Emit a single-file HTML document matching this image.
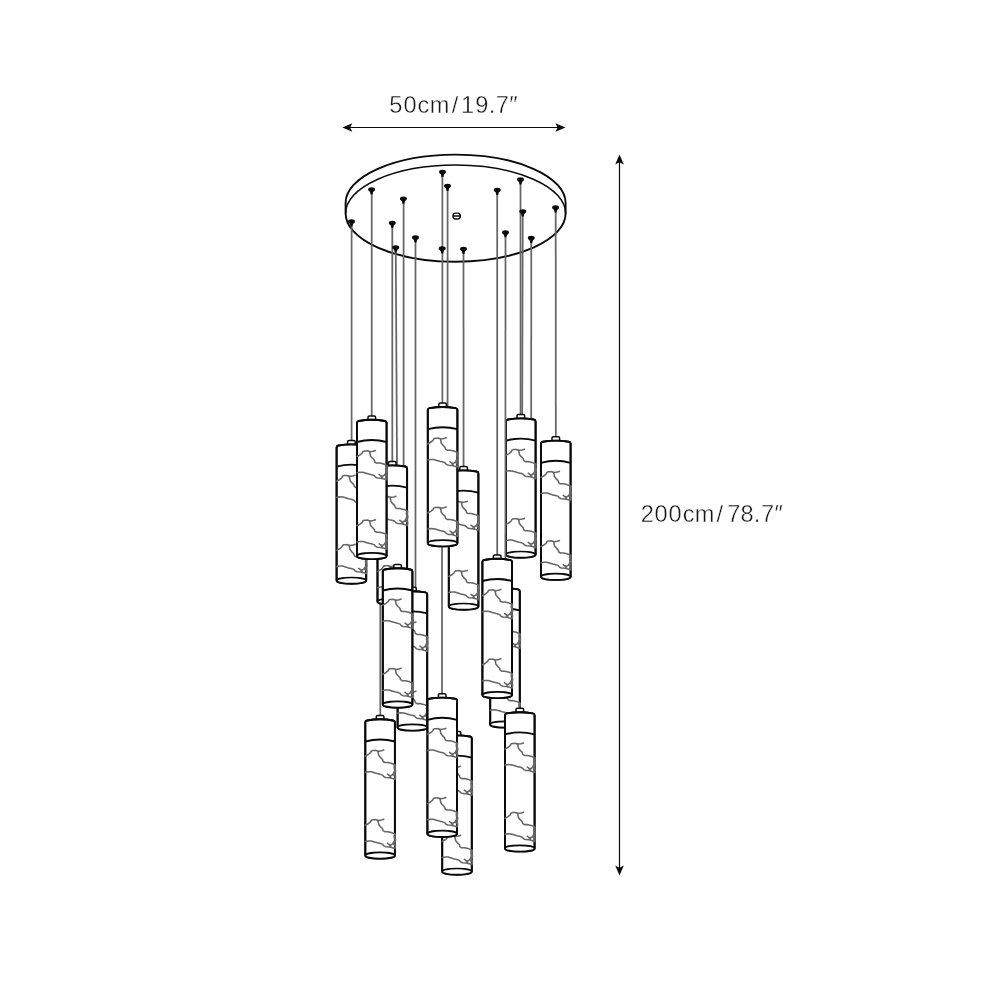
<!DOCTYPE html>
<html lang="en"><head><meta charset="utf-8"><title>Pendant dimensions</title>
<style>html,body{margin:0;padding:0;background:#fff}body{width:1000px;height:1000px;overflow:hidden}svg{display:block}text{font-family:"Liberation Sans",sans-serif;font-size:23.6px;fill:#161616;stroke:#fff;stroke-width:0.38px}</style></head><body>
<svg width="1000" height="1000" viewBox="0 0 1000 1000">
<rect width="1000" height="1000" fill="#fff"/>
<defs><symbol id="p" overflow="visible">
<path d="M11,0.6 L11,-2.6 Q11,-3.9 12.4,-3.9 L17.2,-3.9 Q18.6,-3.9 18.6,-2.6 L18.6,0.6 Z" fill="#fff" stroke="#0a0a0a" stroke-width="1.5" stroke-linejoin="round"/>
<path d="M0,136.2 L0,3 Q0,1.5 1.8,1.15 Q14.8,-1.15 27.8,1.15 Q29.6,1.5 29.6,3 L29.6,136.2 A14.8,3.1 0 0 1 0,136.2 Z" fill="#fff" stroke="#0a0a0a" stroke-width="1.9" stroke-linejoin="round"/>
<path d="M0,22.2 Q14.8,18.2 29.6,22.2" fill="none" stroke="#0a0a0a" stroke-width="1.9"/>
<ellipse cx="14.8" cy="136.2" rx="14.8" ry="3.1" fill="#fff" stroke="#0a0a0a" stroke-width="1.7"/>
<path d="M0,136.2 L0,3 Q0,1.5 1.8,1.15 Q14.8,-1.15 27.8,1.15 Q29.6,1.5 29.6,3 L29.6,136.2" fill="none" stroke="#0a0a0a" stroke-width="1.9" stroke-linejoin="round"/>
<path d="M0.0,36.8 L3.0,35.2 L5.2,33.4 L6.0,31.8 L7.2,31.2 L10.0,31.0 L12.4,31.8 L13.0,33.6 L13.4,36.0 L15.0,38.0 L17.2,40.2 L17.8,42.2 L19.4,43.2 L22.4,43.2 L26.0,44.0 L29.6,45.4 M10.0,31.0 L13.5,31.9 L16.2,31.5 L18.4,30.8 M29.4,45.4 L28.8,48.0 L29.6,51.0 L28.6,53.2 L27.6,55.2 L29.4,56.6 M30.1,46.0 L29.7,48.8 L30.3,51.6 L29.6,54.4 L30.2,57.2 L29.8,59.6 M0.0,52.9 L3.0,52.4 L6.0,52.5 L9.0,53.4 L12.0,54.3 L15.5,55.1 L17.2,55.8 L18.6,57.4 L20.5,58.2 L24.0,58.4 L27.0,59.2 L29.6,60.0 M22.2,54.8 L23.8,56.0 L25.4,56.6 L27.0,55.6 L28.4,54.0 M23.8,56.0 L25.6,58.2 M0.0,106.0 L3.0,104.4 L5.2,102.6 L6.0,101.0 L7.2,100.4 L10.0,100.2 L12.4,101.0 L13.0,102.8 L13.4,105.2 L15.0,107.2 L17.2,109.4 L17.8,111.4 L19.4,112.4 L22.4,112.4 L26.0,113.2 L29.6,114.6 M10.0,100.2 L13.5,101.1 L16.2,100.7 L18.4,100.0 M29.4,114.6 L28.8,117.2 L29.6,120.2 L28.6,122.4 L27.6,124.4 L29.4,125.8 M30.1,115.2 L29.7,118.0 L30.3,120.8 L29.6,123.6 L30.2,126.4 L29.8,128.8 M0.0,122.1 L3.0,121.6 L6.0,121.7 L9.0,122.6 L12.0,123.5 L15.5,124.3 L17.2,125.0 L18.6,126.6 L20.5,127.4 L24.0,127.6 L27.0,128.4 L29.6,129.2 M22.2,124.0 L23.8,125.2 L25.4,125.8 L27.0,124.8 L28.4,123.2 M23.8,125.2 L25.6,127.4" fill="none" stroke="#666666" stroke-width="1.55" stroke-linecap="round" stroke-linejoin="round"/>
</symbol></defs>
<g style="filter:grayscale(1)"><text x="389.3 403.6 417.6 429.7 451.7 461 475.2 488.7 495.8 509.2" y="112.5">50cm/19.7″</text>
<text x="640.7 654.4 668.5 682.7 694.8 716.6 727.3 740.5 753.7 761 774.6" y="521.9">200cm/78.7″</text></g>
<line x1="348" y1="127.5" x2="560" y2="127.5" stroke="#0a0a0a" stroke-width="1.2"/>
<polygon points="342.30,127.50 352.40,123.20 350.10,127.50 352.40,131.80" fill="#0a0a0a"/>
<polygon points="565.50,127.50 555.40,131.80 557.70,127.50 555.40,123.20" fill="#0a0a0a"/>
<line x1="619.5" y1="160" x2="619.5" y2="870" stroke="#0a0a0a" stroke-width="1.2"/>
<polygon points="619.50,154.40 623.80,164.50 619.50,162.20 615.20,164.50" fill="#0a0a0a"/>
<polygon points="619.50,875.50 615.20,865.40 619.50,867.70 623.80,865.40" fill="#0a0a0a"/>
<path d="M345.6,213.4 L345.6,203.0 A110,48.4 0 0 1 565.6,203.0 L565.6,213.4 A110,48.4 0 0 1 345.6,213.4 Z" fill="#fff" stroke="#0a0a0a" stroke-width="1.9"/>
<path d="M345.6,213.4 A110,48.4 0 0 1 565.6,213.4" fill="none" stroke="#0a0a0a" stroke-width="1.55"/>
<rect x="453" y="213.1" width="7.3" height="5.8" rx="2.7" fill="#fff" stroke="#0a0a0a" stroke-width="1.45"/><line x1="453.4" y1="216" x2="460" y2="216" stroke="#0a0a0a" stroke-width="1.5"/>
<line x1="442.4" y1="172.5" x2="442.4" y2="404" stroke="#666666" stroke-width="1.75"/>
<line x1="447.6" y1="186.5" x2="447.6" y2="408" stroke="#666666" stroke-width="1.75"/>
<line x1="371.7" y1="190" x2="371.7" y2="416" stroke="#666666" stroke-width="1.75"/>
<line x1="403.6" y1="199.25" x2="403.6" y2="467" stroke="#666666" stroke-width="1.75"/>
<line x1="497.2" y1="190.5" x2="497.2" y2="556" stroke="#666666" stroke-width="1.75"/>
<line x1="520.5" y1="180" x2="520.6" y2="415" stroke="#666666" stroke-width="1.75"/>
<line x1="522.75" y1="212" x2="522.2" y2="415" stroke="#666666" stroke-width="1.75"/>
<line x1="555.7" y1="208" x2="555.8" y2="437" stroke="#666666" stroke-width="1.75"/>
<line x1="351.6" y1="222" x2="351.6" y2="441" stroke="#666666" stroke-width="1.75"/>
<line x1="392.3" y1="223.5" x2="392.3" y2="462" stroke="#666666" stroke-width="1.75"/>
<line x1="415.5" y1="238" x2="415.5" y2="590" stroke="#666666" stroke-width="1.75"/>
<line x1="395.75" y1="248" x2="397.6" y2="566" stroke="#666666" stroke-width="1.75"/>
<line x1="463.5" y1="249.5" x2="463.6" y2="467" stroke="#666666" stroke-width="1.75"/>
<line x1="531.25" y1="238.5" x2="531.2" y2="420" stroke="#666666" stroke-width="1.75"/>
<line x1="442.0" y1="546" x2="442.0" y2="695" stroke="#666666" stroke-width="1.75"/>
<line x1="380.3" y1="604" x2="380.3" y2="716" stroke="#666666" stroke-width="1.75"/>
<line x1="520.0" y1="700" x2="520.0" y2="709" stroke="#666666" stroke-width="1.75"/>
<ellipse cx="442.50" cy="171.95" rx="3.45" ry="2.15" fill="#0a0a0a"/><path d="M439.90,173.10 Q441.20,174.40 441.55,176.90 L443.45,176.90 Q443.80,174.40 445.10,173.10 Z" fill="#0a0a0a"/>
<ellipse cx="447.50" cy="185.95" rx="3.45" ry="2.15" fill="#0a0a0a"/><path d="M444.90,187.10 Q446.20,188.40 446.55,190.90 L448.45,190.90 Q448.80,188.40 450.10,187.10 Z" fill="#0a0a0a"/>
<ellipse cx="371.60" cy="189.45" rx="3.45" ry="2.15" fill="#0a0a0a"/><path d="M369.00,190.60 Q370.30,191.90 370.65,194.40 L372.55,194.40 Q372.90,191.90 374.20,190.60 Z" fill="#0a0a0a"/>
<ellipse cx="403.40" cy="198.70" rx="3.45" ry="2.15" fill="#0a0a0a"/><path d="M400.80,199.85 Q402.10,201.15 402.45,203.65 L404.35,203.65 Q404.70,201.15 406.00,199.85 Z" fill="#0a0a0a"/>
<ellipse cx="497.25" cy="189.95" rx="3.45" ry="2.15" fill="#0a0a0a"/><path d="M494.65,191.10 Q495.95,192.40 496.30,194.90 L498.20,194.90 Q498.55,192.40 499.85,191.10 Z" fill="#0a0a0a"/>
<ellipse cx="520.50" cy="179.45" rx="3.45" ry="2.15" fill="#0a0a0a"/><path d="M517.90,180.60 Q519.20,181.90 519.55,184.40 L521.45,184.40 Q521.80,181.90 523.10,180.60 Z" fill="#0a0a0a"/>
<ellipse cx="522.75" cy="211.45" rx="3.45" ry="2.15" fill="#0a0a0a"/><path d="M520.15,212.60 Q521.45,213.90 521.80,216.40 L523.70,216.40 Q524.05,213.90 525.35,212.60 Z" fill="#0a0a0a"/>
<ellipse cx="555.60" cy="207.45" rx="3.45" ry="2.15" fill="#0a0a0a"/><path d="M553.00,208.60 Q554.30,209.90 554.65,212.40 L556.55,212.40 Q556.90,209.90 558.20,208.60 Z" fill="#0a0a0a"/>
<ellipse cx="351.50" cy="221.45" rx="3.45" ry="2.15" fill="#0a0a0a"/><path d="M348.90,222.60 Q350.20,223.90 350.55,226.40 L352.45,226.40 Q352.80,223.90 354.10,222.60 Z" fill="#0a0a0a"/>
<ellipse cx="392.25" cy="222.95" rx="3.45" ry="2.15" fill="#0a0a0a"/><path d="M389.65,224.10 Q390.95,225.40 391.30,227.90 L393.20,227.90 Q393.55,225.40 394.85,224.10 Z" fill="#0a0a0a"/>
<ellipse cx="415.50" cy="237.45" rx="3.45" ry="2.15" fill="#0a0a0a"/><path d="M412.90,238.60 Q414.20,239.90 414.55,242.40 L416.45,242.40 Q416.80,239.90 418.10,238.60 Z" fill="#0a0a0a"/>
<ellipse cx="395.75" cy="247.45" rx="3.45" ry="2.15" fill="#0a0a0a"/><path d="M393.15,248.60 Q394.45,249.90 394.80,252.40 L396.70,252.40 Q397.05,249.90 398.35,248.60 Z" fill="#0a0a0a"/>
<ellipse cx="442.20" cy="248.45" rx="3.45" ry="2.15" fill="#0a0a0a"/><path d="M439.60,249.60 Q440.90,250.90 441.25,253.40 L443.15,253.40 Q443.50,250.90 444.80,249.60 Z" fill="#0a0a0a"/>
<ellipse cx="463.50" cy="248.95" rx="3.45" ry="2.15" fill="#0a0a0a"/><path d="M460.90,250.10 Q462.20,251.40 462.55,253.90 L464.45,253.90 Q464.80,251.40 466.10,250.10 Z" fill="#0a0a0a"/>
<ellipse cx="505.50" cy="232.45" rx="3.45" ry="2.15" fill="#0a0a0a"/><path d="M502.90,233.60 Q504.20,234.90 504.55,237.40 L506.45,237.40 Q506.80,234.90 508.10,233.60 Z" fill="#0a0a0a"/>
<ellipse cx="531.25" cy="237.95" rx="3.45" ry="2.15" fill="#0a0a0a"/><path d="M528.65,239.10 Q529.95,240.40 530.30,242.90 L532.20,242.90 Q532.55,240.40 533.85,239.10 Z" fill="#0a0a0a"/>
<use href="#p" x="336.6" y="444.4"/>
<use href="#p" x="377.5" y="465.4"/>
<use href="#p" x="357.0" y="419.8"/>
<use href="#p" x="448.8" y="470.4"/>
<use href="#p" x="427.8" y="407.0"/>
<use href="#p" x="506.0" y="418.4"/>
<line x1="505.5" y1="237" x2="505.4" y2="575" stroke="#666666" stroke-width="1.75"/>
<use href="#p" x="541.0" y="440.6"/>
<use href="#p" x="397.6" y="591.2"/>
<use href="#p" x="490.2" y="588.2"/>
<use href="#p" x="382.8" y="568.3"/>
<use href="#p" x="482.4" y="558.8"/>
<use href="#p" x="442.2" y="735.4"/>
<use href="#p" x="427.4" y="697.6"/>
<use href="#p" x="365.3" y="719.3"/>
<use href="#p" x="505.0" y="712.2"/>
</svg></body></html>
